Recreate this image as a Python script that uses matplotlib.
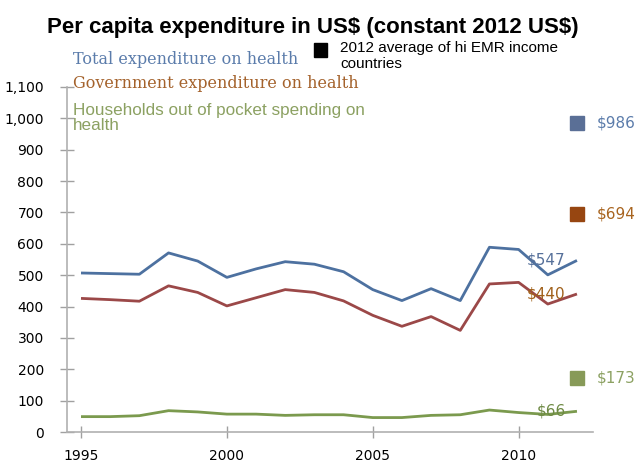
import matplotlib
matplotlib.use("Agg")
import matplotlib.pyplot as plt

# Per capita health expenditure, constant 2012 US$
years = list(range(1995, 2013))
total_exp = [507, 505, 503, 571, 545, 493, 520, 543, 535, 511, 454, 419, 457, 419, 589, 582, 501, 547]
gov_exp = [426, 422, 417, 466, 445, 402, 428, 454, 445, 418, 372, 337, 368, 324, 472, 477, 408, 440]
oop_exp = [49, 49, 52, 68, 64, 57, 57, 53, 55, 55, 46, 46, 53, 55, 70, 62, 56, 66]

# 2012 averages of high income EMR countries
avg_year = 2012
avg_total = 986
avg_gov = 694
avg_oop = 173

series_names = ["Total expenditure on health",
                "Government expenditure on health",
                "Households out of pocket spending on\nhealth"]
avg_label = "2012 average of hi EMR income\ncountries"
title = "Per capita expenditure in US$ (constant 2012 US$)"
y_ticks = [0, 100, 200, 300, 400, 500, 600, 700, 800, 900, 1000, 1100]
x_ticks = [1995, 2000, 2005, 2010]

c_total, c_gov, c_oop = "#4d71a0", "#9b4848", "#7b9a4e"
t_total, t_gov, t_oop = "#5b7cab", "#a4622c", "#8ca162"
s_total, s_gov, s_oop = "#5a6f96", "#974611", "#879a58"

fig = plt.figure(figsize=(6.43, 4.72), dpi=100)
ax = fig.add_axes([67 / 643, 40 / 472, 526 / 643, 345 / 472])

ax.plot(years, total_exp, color=c_total, lw=2.0, solid_capstyle="butt")
ax.plot(years, gov_exp, color=c_gov, lw=2.0, solid_capstyle="butt")
ax.plot(years, oop_exp, color=c_oop, lw=2.0, solid_capstyle="butt")

# end-of-line value labels
lab_kw = dict(ha="right", va="center", fontsize=11, family="DejaVu Sans",
              parse_math=False, textcoords="offset points")
ax.annotate(f"${total_exp[-1]}", (years[-1], total_exp[-1]), xytext=(-8, 0),
            color="#56709a", **lab_kw)
ax.annotate(f"${gov_exp[-1]}", (years[-1], gov_exp[-1]), xytext=(-8, 0),
            color="#a0601a", **lab_kw)
ax.annotate(f"${oop_exp[-1]}", (years[-1], oop_exp[-1]), xytext=(-8, 0),
            color="#6e8a44", **lab_kw)

# regional averages as squares
for val, sc, tc in [(avg_total, s_total, t_total), (avg_gov, s_gov, "#a8641f"),
                    (avg_oop, s_oop, t_oop)]:
    ax.plot([avg_year], [val], marker="s", ms=9.4, color=sc, mec=sc, ls="none")
    ax.annotate(f"${val}", (avg_year, val), xytext=(14, 0), textcoords="offset points",
                ha="left", va="center", fontsize=11, color=tc, family="DejaVu Sans",
                annotation_clip=False, parse_math=False)

ax.set_xlim(1994.52, 2012.55)
ax.set_ylim(0, 1100)
ax.set_yticks(y_ticks)
ax.set_yticklabels([f"{v:,}" for v in y_ticks])
ax.set_xticks(x_ticks)

for s in ["top", "right"]:
    ax.spines[s].set_visible(False)
for s in ["left", "bottom"]:
    ax.spines[s].set_color("#b0b0b0")
    ax.spines[s].set_linewidth(1.2)
ax.tick_params(axis="y", direction="inout", length=9.4, width=1, color="#a0a0a0",
               pad=12, labelsize=10)
ax.tick_params(axis="x", direction="inout", length=8, width=1, color="#a0a0a0",
               pad=8, labelsize=10)
for lbl in ax.get_xticklabels() + ax.get_yticklabels():
    lbl.set_family("DejaVu Sans")

fig.text(313 / 643, 1 - 27 / 472, title, ha="center", va="center", fontsize=16,
         fontweight="bold", family="Liberation Sans", parse_math=False)

# legend block
fig.text(73 / 643, 1 - 60 / 472, series_names[0], ha="left", va="center",
         fontsize=11.5, color=t_total, family="DejaVu Serif")
fig.text(73 / 643, 1 - 83 / 472, series_names[1], ha="left", va="center",
         fontsize=11.5, color=t_gov, family="DejaVu Serif")
fig.text(73 / 643, 1 - 118 / 472, series_names[2], ha="left", va="center",
         fontsize=12.3, color=t_oop, family="Liberation Sans", linespacing=0.95)
fig.patches.append(plt.Rectangle((314 / 643, 1 - 57 / 472), 13 / 643, 14 / 472,
                                 transform=fig.transFigure, color="black"))
fig.text(340 / 643, 1 - 56 / 472, avg_label, ha="left", va="center",
         fontsize=11, color="black", family="Liberation Sans", linespacing=1.1)

fig.savefig("out.png", dpi=100)
